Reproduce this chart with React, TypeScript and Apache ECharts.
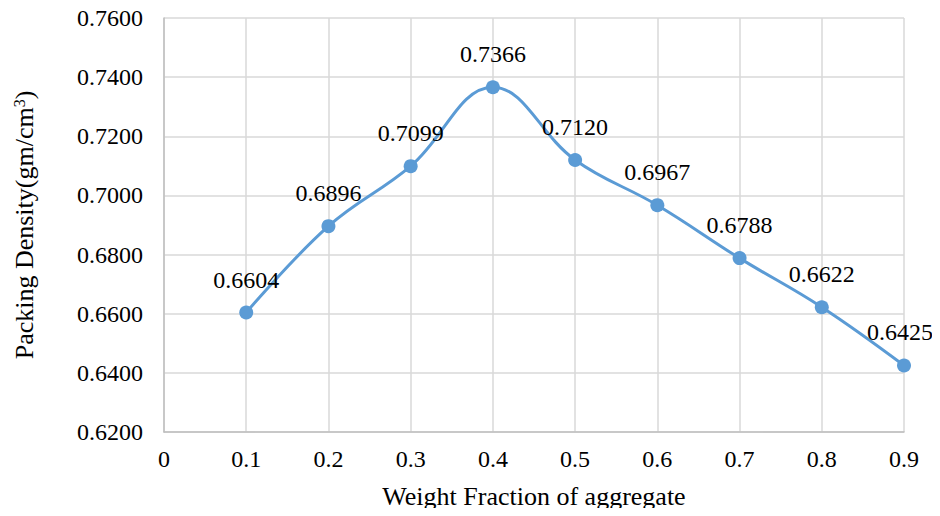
import React, { useEffect, useRef } from "react";
import * as echarts from "echarts";

const weightFractions = [0.1, 0.2, 0.3, 0.4, 0.5, 0.6, 0.7, 0.8, 0.9];
const packingDensity = [0.6604, 0.6896, 0.7099, 0.7366, 0.712, 0.6967, 0.6788, 0.6622, 0.6425];
const xTitle = "Weight Fraction of aggregate";

const FONT = "Liberation Serif";
const LINE_COLOR = "#5B9BD5";
const FS = 24;
const TITLE_FS = 26;

export default function App() {
  const ref = useRef<HTMLDivElement>(null);

  useEffect(() => {
    if (!ref.current) return;
    const chart = echarts.init(ref.current, null, { renderer: "svg" });
    const lastIndex = weightFractions.length - 1;
    chart.setOption({
      animation: false,
      textStyle: { fontFamily: FONT, fontSize: FS, color: "#000" },
      grid: { left: 164, right: 36, top: 18, bottom: 84 },
      xAxis: {
        type: "value",
        min: 0,
        max: 0.9,
        interval: 0.1,
        name: xTitle,
        nameLocation: "middle",
        nameGap: 51,
        nameTextStyle: { fontFamily: FONT, fontSize: TITLE_FS, color: "#000" },
        axisLine: { show: true, lineStyle: { color: "#BFBFBF", width: 1.5 } },
        axisTick: { show: false },
        splitLine: { show: true, lineStyle: { color: "#D9D9D9", width: 1.5 } },
        axisLabel: {
          fontFamily: FONT,
          fontSize: FS,
          color: "#000",
          margin: 15,
          formatter: (v: number) => (v === 0 ? "0" : v.toFixed(1)),
        },
      },
      yAxis: {
        type: "value",
        min: 0.62,
        max: 0.76,
        interval: 0.02,
        name: "{t|Packing Density(gm/cm}{s|3}{t|)}",
        nameLocation: "middle",
        nameGap: 127,
        nameRotate: 90,
        nameTextStyle: {
          rich: {
            t: { fontFamily: FONT, fontSize: TITLE_FS, color: "#000" },
            s: { fontFamily: FONT, fontSize: 16, color: "#000", verticalAlign: "top", padding: [0, 0, 10, 0] },
          },
        },
        axisLine: { show: true, lineStyle: { color: "#BFBFBF", width: 1.5 } },
        axisTick: { show: false },
        splitLine: { show: true, lineStyle: { color: "#D9D9D9", width: 1.5 } },
        axisLabel: {
          fontFamily: FONT,
          fontSize: FS,
          color: "#000",
          margin: 21,
          formatter: (v: number) => v.toFixed(4),
        },
      },
      series: [
        {
          type: "line",
          // keep the right-most value label inside the canvas
          data: weightFractions.map((x, i) =>
            i === lastIndex
              ? { value: [x, packingDensity[i]], label: { offset: [-4, 0] } }
              : { value: [x, packingDensity[i]] }
          ),
          smooth: 0.4,
          symbol: "circle",
          symbolSize: 14,
          lineStyle: { color: LINE_COLOR, width: 3 },
          itemStyle: { color: LINE_COLOR },
          label: {
            show: true,
            position: "top",
            distance: 14,
            fontFamily: FONT,
            fontSize: FS,
            color: "#000",
            formatter: (p: any) => p.value[1].toFixed(4),
          },
        },
      ],
    });
    return () => chart.dispose();
  }, []);

  return <div ref={ref} style={{ width: 940, height: 516, margin: -8, background: "#fff" }} />;
}
